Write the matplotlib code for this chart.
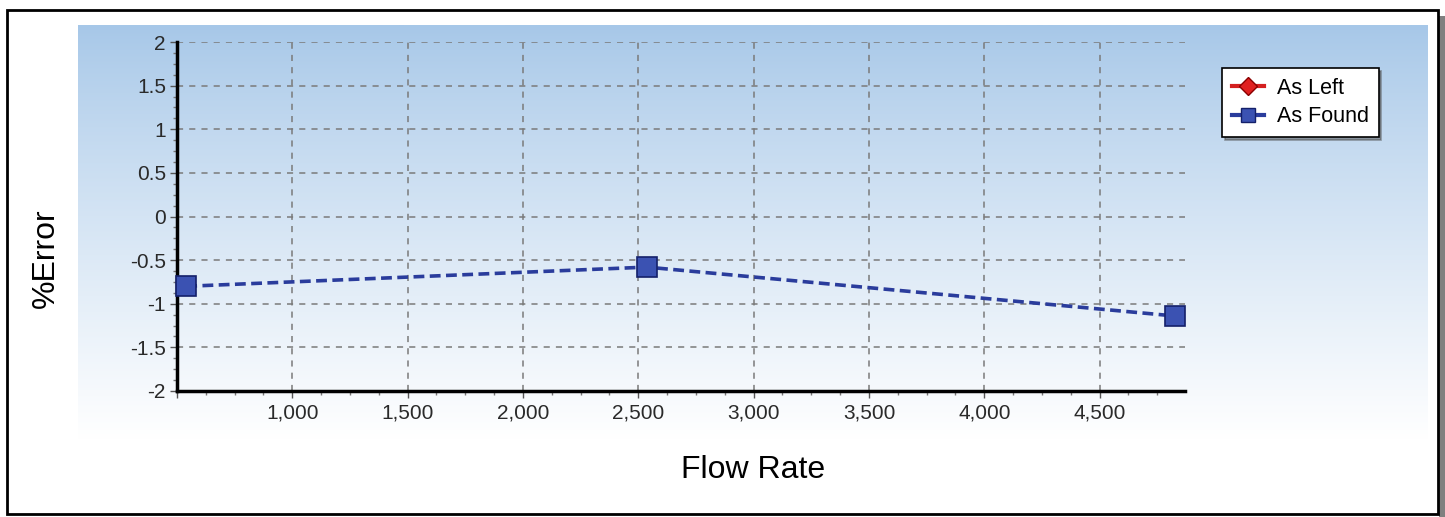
import numpy as np
import matplotlib.pyplot as plt
from matplotlib.patches import Rectangle
from matplotlib.lines import Line2D
from matplotlib.ticker import MultipleLocator, FuncFormatter

# data
flow_rate = [540, 2537, 4825]
as_found = [-0.80, -0.58, -1.14]
as_left = [-0.80, -0.58, -1.14]

plt.rcParams['font.family'] = ['Liberation Sans', 'DejaVu Sans']

fig = plt.figure(figsize=(14.45, 5.17), dpi=100)

# background gradient panel
bg = fig.add_axes([78/1445, 1 - 440/517, (1428-78)/1445, (440-25)/517], zorder=0)
grad = np.linspace(0, 1, 256).reshape(-1, 1)
top = np.array([166, 199, 232]) / 255
bot = np.array([255, 255, 255]) / 255
img = top + (bot - top) * grad[..., None] ** 0.85
bg.imshow(img, aspect='auto', extent=[0, 1, 0, 1])
bg.axis('off')

# outer frame and right shadow
fig.patches.append(Rectangle((1439/1445, 0), 6/1445, 1 - 16/517, transform=fig.transFigure,
                             facecolor='#808080', edgecolor='none', zorder=0))
fig.patches.append(Rectangle((7/1445, 3/517), (1438-7)/1445, (514-10)/517, transform=fig.transFigure,
                             facecolor='none', edgecolor='black', linewidth=2, zorder=5))

ax = fig.add_axes([177/1445, 1 - 391/517, (1185-177)/1445, (391-42)/517], zorder=1)
ax.patch.set_alpha(0)

# as left sits under the as found points
ax.plot(flow_rate, as_left, color='#d42020', linestyle='none',
        marker='D', markersize=7, markeredgecolor='#8a0000', zorder=2)
ax.plot(flow_rate, as_found, color='#2a3c9c', linestyle=(0, (3, 1.5)), linewidth=2.6,
        marker='s', markersize=14, markerfacecolor='#3b52b2', markeredgecolor='#14206a',
        markeredgewidth=1.2, zorder=3, clip_on=False)

ax.set_xlim(500, 4870)
ax.set_ylim(-2, 2)
ax.xaxis.set_major_locator(MultipleLocator(500))
ax.xaxis.set_minor_locator(MultipleLocator(125))
ax.yaxis.set_major_locator(MultipleLocator(0.5))
ax.yaxis.set_minor_locator(MultipleLocator(0.125))
ax.xaxis.set_major_formatter(FuncFormatter(lambda v, p: '' if v < 1000 else f'{int(v):,}'))
ax.yaxis.set_major_formatter(FuncFormatter(lambda v, p: f'{v:g}'))

for s in ['top', 'right']:
    ax.spines[s].set_visible(False)
for s in ['left', 'bottom']:
    ax.spines[s].set_linewidth(2.5)
ax.tick_params(axis='both', which='major', length=5, width=1, color='#555555', labelsize=15, labelcolor='#2a2a2a')
ax.tick_params(axis='both', which='minor', length=3, width=1, color='#777777')
ax.tick_params(axis='x', pad=4)
ax.tick_params(axis='y', pad=3)

ax.grid(True, which='major', color='#7a7a7a', linestyle=(0, (4, 4)), linewidth=1.1)

ax.set_xlabel('Flow Rate', fontsize=23)
ax.xaxis.set_label_coords((753 - 177) / (1185 - 177), -(470 - 391) / (391 - 42))
ax.xaxis.label.set_verticalalignment('center')
ax.set_ylabel('%Error', fontsize=23)
ax.yaxis.set_label_coords(-(177 - 46) / (1185 - 177), (391 - 258) / (391 - 42))
ax.yaxis.label.set_verticalalignment('center')

handles = [
    Line2D([], [], color='#d42020', linewidth=3, marker='D', markersize=9,
           markerfacecolor='#e02020', markeredgecolor='#8a0000'),
    Line2D([], [], color='#2a3c9c', linewidth=3, marker='s', markersize=10,
           markerfacecolor='#3b52b2', markeredgecolor='#14206a'),
]
leg = ax.legend(handles, ['As Left', 'As Found'], loc='upper left',
                bbox_to_anchor=((1222 - 177) / (1185 - 177), (391 - 68) / (391 - 42)),
                frameon=True, fancybox=False, shadow=True, fontsize=15.5, handlelength=1.5,
                handletextpad=0.6, borderpad=0.45, labelspacing=0.35, borderaxespad=0)
leg.get_frame().set_edgecolor('black')
leg.get_frame().set_linewidth(1.2)

fig.savefig('out.png', dpi=100)
